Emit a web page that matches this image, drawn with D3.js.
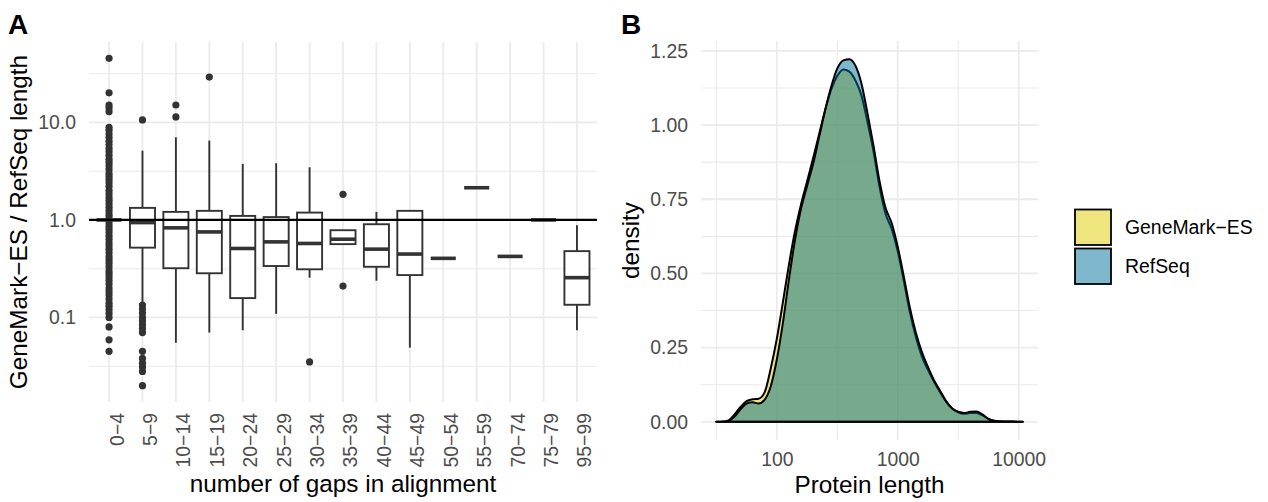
<!DOCTYPE html>
<html>
<head>
<meta charset="utf-8">
<script src="https://cdn.jsdelivr.net/npm/d3@7"></script>
<style>
  body { margin: 0; background: #fff; }
  svg { display: block; font-family: "Liberation Sans", Arial, sans-serif; }
</style>
</head>
<body>
<div id="chart"></div>
<script>
// ---- Panel A: length ratio by number of gaps ----
const gapBins = ['0−4', '5−9', '10−14', '15−19', '20−24', '25−29', '30−34', '35−39',
    '40−44', '45−49', '50−54', '55−59', '70−74', '75−79', '95−99'];
const whiskerLow = [1.0, 0.141, 0.055, 0.07, 0.074, 0.109, 0.256, 0.565, 0.238, 0.049, 0.404, 2.14, 0.423, 1.0, 0.074];
const boxQ1 = [1.0, 0.52, 0.32, 0.284, 0.158, 0.337, 0.312, 0.565, 0.331, 0.272, 0.404, 2.14, 0.423, 1.0, 0.135];
const boxMedian = [1.0, 0.94, 0.83, 0.754, 0.51, 0.596, 0.574, 0.635, 0.502, 0.447, 0.404, 2.14, 0.423, 1.0, 0.256];
const boxQ3 = [1.0, 1.33, 1.21, 1.24, 1.1, 1.07, 1.19, 0.785, 0.904, 1.24, 0.404, 2.14, 0.423, 1.0, 0.479];
const whiskerHigh = [1.0, 5.14, 7.04, 6.52, 3.76, 3.82, 3.47, 0.785, 1.21, 1.24, 0.404, 2.14, 0.423, 1.0, 0.883];
const outliers = [
    [45.4, 20.1, 15.1, 14.1, 12.9, 8.9, 8.3, 7.6, 7.0, 6.4, 5.9, 5.4, 5.0, 4.6, 4.2, 3.9, 3.6, 3.3, 3.0,
     2.8, 2.6, 2.4, 2.2, 2.0, 1.85, 1.7, 1.58, 1.46, 1.35, 1.25, 1.15, 1.08, 0.93, 0.86, 0.8, 0.74,
     0.68, 0.63, 0.58, 0.54, 0.5, 0.46, 0.42, 0.39, 0.36, 0.33, 0.3, 0.28, 0.26, 0.24, 0.22, 0.2,
     0.185, 0.17, 0.155, 0.14, 0.13, 0.12, 0.11, 0.1, 0.08, 0.059, 0.045],
    [10.6, 0.134, 0.122, 0.111, 0.1, 0.092, 0.084, 0.077, 0.07, 0.045, 0.038, 0.034, 0.031, 0.028, 0.02],
    [15.1, 11.4],
    [29.2],
    [], [], [0.035],
    [1.83, 0.21],
    [], [], [], [], [], [], []
];
const ratioTicks = [0.1, 1, 10];

// ---- Panel B: protein length densities ----
const proteinLength = [31.6, 35.5, 39.8, 44.7, 50.1, 56.2, 63.1, 70.8, 79.4, 89.1,
    100, 112, 126, 141, 158, 178, 200, 224, 251, 282,
    316, 355, 398, 447, 501, 562, 631, 708, 794, 891,
    1000, 1122, 1259, 1413, 1585, 1778, 1995, 2239, 2512, 2818,
    3162, 3548, 3981, 4467, 5012, 5623, 6310, 7079, 7943, 8913, 10000, 10800];
const densityGeneMark = [0, 0.001, 0.005, 0.025, 0.05, 0.07, 0.076, 0.078, 0.10, 0.18,
    0.28, 0.40, 0.53, 0.64, 0.73, 0.81, 0.89, 0.97, 1.05, 1.12,
    1.165, 1.187, 1.18, 1.15, 1.10, 1.01, 0.91, 0.79, 0.70, 0.65,
    0.575, 0.475, 0.37, 0.285, 0.22, 0.175, 0.135, 0.10, 0.068, 0.045,
    0.032, 0.027, 0.03, 0.03, 0.022, 0.01, 0.004, 0.002, 0.001, 0.001, 0.0005, 0];
const densityRefSeq = [0, 0, 0.003, 0.018, 0.042, 0.062, 0.066, 0.062, 0.075, 0.12,
    0.21, 0.33, 0.48, 0.61, 0.715, 0.795, 0.87, 0.96, 1.05, 1.13,
    1.19, 1.218, 1.222, 1.20, 1.14, 1.04, 0.93, 0.81, 0.72, 0.67,
    0.59, 0.49, 0.385, 0.30, 0.235, 0.185, 0.14, 0.105, 0.07, 0.045,
    0.034, 0.03, 0.034, 0.035, 0.025, 0.01, 0.003, 0.001, 0.001, 0.001, 0.0005, 0];
const seriesNames = ['GeneMark−ES', 'RefSeq'];
const seriesColors = ['#ddcb00', '#006f99'];
const lengthTicks = [100, 1000, 10000];
const densityTicks = [0, 0.25, 0.5, 0.75, 1.0, 1.25];

const gridColor = '#ebebeb';
const tickColor = '#4d4d4d';
const boxColor = '#333333';

const svg = d3.select('#chart').append('svg')
    .attr('width', 1268)
    .attr('height', 502);

// ================= Panel A =================
const pa = { left: 89, right: 597, top: 42, bottom: 402 };

const xA = d3.scalePoint()
    .domain(gapBins)
    .range([pa.left, pa.right])
    .padding(0.6);

const allRatios = [].concat(whiskerLow, whiskerHigh, ...outliers);
const lmin = Math.log10(d3.min(allRatios));
const lmax = Math.log10(d3.max(allRatios));
const lpad = (lmax - lmin) * 0.05;
const yA = d3.scaleLog()
    .domain([Math.pow(10, lmin - lpad), Math.pow(10, lmax + lpad)])
    .range([pa.bottom, pa.top]);

const gA = svg.append('g');

// minor grid (half decades)
[-2.5, -1.5, -0.5, 0.5, 1.5, 2.5].map(e => Math.pow(10, e))
    .filter(v => v > yA.domain()[0] && v < yA.domain()[1])
    .forEach(v => {
        gA.append('line')
            .attr('x1', pa.left).attr('x2', pa.right)
            .attr('y1', yA(v)).attr('y2', yA(v))
            .attr('stroke', gridColor).attr('stroke-width', 1.1);
    });
ratioTicks.forEach(v => {
    gA.append('line')
        .attr('x1', pa.left).attr('x2', pa.right)
        .attr('y1', yA(v)).attr('y2', yA(v))
        .attr('stroke', gridColor).attr('stroke-width', 1.8);
});
gapBins.forEach(c => {
    gA.append('line')
        .attr('x1', xA(c)).attr('x2', xA(c))
        .attr('y1', pa.top).attr('y2', pa.bottom)
        .attr('stroke', gridColor).attr('stroke-width', 1.8);
});

const boxW = xA.step() * 0.75;

gapBins.forEach((c, i) => {
    const cx = xA(c);
    const g = gA.append('g');
    // whiskers
    g.append('line')
        .attr('x1', cx).attr('x2', cx)
        .attr('y1', yA(boxQ3[i])).attr('y2', yA(whiskerHigh[i]))
        .attr('stroke', boxColor).attr('stroke-width', 1.9);
    g.append('line')
        .attr('x1', cx).attr('x2', cx)
        .attr('y1', yA(boxQ1[i])).attr('y2', yA(whiskerLow[i]))
        .attr('stroke', boxColor).attr('stroke-width', 1.9);
    // box
    g.append('rect')
        .attr('x', cx - boxW / 2)
        .attr('y', yA(boxQ3[i]))
        .attr('width', boxW)
        .attr('height', yA(boxQ1[i]) - yA(boxQ3[i]))
        .attr('fill', '#fff')
        .attr('stroke', boxColor)
        .attr('stroke-width', 1.9);
    // median
    g.append('line')
        .attr('x1', cx - boxW / 2).attr('x2', cx + boxW / 2)
        .attr('y1', yA(boxMedian[i])).attr('y2', yA(boxMedian[i]))
        .attr('stroke', boxColor).attr('stroke-width', 3.6);
    // outliers
    g.selectAll('circle')
        .data(outliers[i])
        .enter()
        .append('circle')
        .attr('cx', cx)
        .attr('cy', d => yA(d))
        .attr('r', 3.6)
        .attr('fill', boxColor);
});

// reference line at ratio 1
gA.append('line')
    .attr('x1', pa.left).attr('x2', pa.right)
    .attr('y1', yA(1)).attr('y2', yA(1))
    .attr('stroke', '#000').attr('stroke-width', 2.2);

// axes
const axA_y = gA.append('g')
    .attr('transform', `translate(${pa.left},0)`)
    .call(d3.axisLeft(yA).tickValues(ratioTicks).tickFormat(d3.format('.1f')).tickSize(0).tickPadding(13));
axA_y.select('.domain').remove();
axA_y.selectAll('text')
    .style('font-size', '19.4px')
    .style('fill', tickColor);

const axA_x = gA.append('g')
    .attr('transform', `translate(0,${pa.bottom})`)
    .call(d3.axisBottom(xA).tickSize(0));
axA_x.select('.domain').remove();
axA_x.selectAll('text')
    .attr('transform', 'rotate(-90)')
    .attr('x', -11)
    .attr('y', 0)
    .attr('dy', '0.72em')
    .style('text-anchor', 'end')
    .style('font-size', '19.4px')
    .style('fill', tickColor);

gA.append('text')
    .attr('x', (pa.left + pa.right) / 2)
    .attr('y', 492)
    .attr('text-anchor', 'middle')
    .style('font-size', '24.3px')
    .text('number of gaps in alignment');

gA.append('text')
    .attr('transform', `translate(26.5,${(pa.top + pa.bottom) / 2}) rotate(-90)`)
    .attr('text-anchor', 'middle')
    .style('font-size', '24.3px')
    .text('GeneMark−ES / RefSeq length');

svg.append('text')
    .attr('x', 8).attr('y', 34)
    .style('font-size', '28px')
    .style('font-weight', 'bold')
    .text('A');

// ================= Panel B =================
const pb = { left: 701, right: 1038, top: 41, bottom: 440 };

const llo = Math.log10(d3.min(proteinLength));
const lhi = Math.log10(d3.max(proteinLength));
const lxpad = (lhi - llo) * 0.05;
const xB = d3.scaleLog()
    .domain([Math.pow(10, llo - lxpad), Math.pow(10, lhi + lxpad)])
    .range([pb.left, pb.right]);

const dmax = d3.max([].concat(densityGeneMark, densityRefSeq));
const yB = d3.scaleLinear()
    .domain([-dmax * 0.05, dmax * 1.05])
    .range([pb.bottom, pb.top]);

const gB = svg.append('g');

[0.125, 0.375, 0.625, 0.875, 1.125].forEach(v => {
    gB.append('line')
        .attr('x1', pb.left).attr('x2', pb.right)
        .attr('y1', yB(v)).attr('y2', yB(v))
        .attr('stroke', gridColor).attr('stroke-width', 1.1);
});
[Math.pow(10, 1.5), Math.pow(10, 2.5), Math.pow(10, 3.5)].forEach(v => {
    gB.append('line')
        .attr('x1', xB(v)).attr('x2', xB(v))
        .attr('y1', pb.top).attr('y2', pb.bottom)
        .attr('stroke', gridColor).attr('stroke-width', 1.1);
});
densityTicks.forEach(v => {
    gB.append('line')
        .attr('x1', pb.left).attr('x2', pb.right)
        .attr('y1', yB(v)).attr('y2', yB(v))
        .attr('stroke', gridColor).attr('stroke-width', 1.8);
});
lengthTicks.forEach(v => {
    gB.append('line')
        .attr('x1', xB(v)).attr('x2', xB(v))
        .attr('y1', pb.top).attr('y2', pb.bottom)
        .attr('stroke', gridColor).attr('stroke-width', 1.8);
});

const area = d3.area()
    .x(d => xB(d[0]))
    .y0(yB(0))
    .y1(d => yB(d[1]))
    .curve(d3.curveMonotoneX);

[densityGeneMark, densityRefSeq].forEach((dens, i) => {
    gB.append('path')
        .datum(proteinLength.map((len, j) => [len, dens[j]]))
        .attr('d', area)
        .attr('fill', seriesColors[i])
        .attr('fill-opacity', 0.5)
        .attr('stroke', '#000')
        .attr('stroke-width', 2)
        .attr('stroke-linejoin', 'round');
});

const axB_y = gB.append('g')
    .attr('transform', `translate(${pb.left},0)`)
    .call(d3.axisLeft(yB).tickValues(densityTicks).tickFormat(d3.format('.2f')).tickSize(0).tickPadding(13));
axB_y.select('.domain').remove();
axB_y.selectAll('text')
    .style('font-size', '19.4px')
    .style('fill', tickColor);

const axB_x = gB.append('g')
    .attr('transform', `translate(0,${pb.bottom})`)
    .call(d3.axisBottom(xB).tickValues(lengthTicks).tickFormat(d3.format('d')).tickSize(0).tickPadding(12.5));
axB_x.select('.domain').remove();
axB_x.selectAll('text')
    .style('font-size', '19.4px')
    .style('fill', tickColor);

gB.append('text')
    .attr('x', (pb.left + pb.right) / 2)
    .attr('y', 493)
    .attr('text-anchor', 'middle')
    .style('font-size', '24.3px')
    .text('Protein length');

gB.append('text')
    .attr('transform', `translate(639,${(pb.top + pb.bottom) / 2}) rotate(-90)`)
    .attr('text-anchor', 'middle')
    .style('font-size', '24.3px')
    .text('density');

svg.append('text')
    .attr('x', 621).attr('y', 34)
    .style('font-size', '28px')
    .style('font-weight', 'bold')
    .text('B');

// legend
const legend = svg.append('g').attr('transform', 'translate(1075,209.5)');
seriesNames.forEach((name, i) => {
    legend.append('rect')
        .attr('x', 0)
        .attr('y', i * 39)
        .attr('width', 36)
        .attr('height', 35.5)
        .attr('fill', seriesColors[i])
        .attr('fill-opacity', 0.5)
        .attr('stroke', '#000')
        .attr('stroke-width', 1.8);
    legend.append('text')
        .attr('x', 50)
        .attr('y', i * 39 + 17.75)
        .attr('dy', '0.35em')
        .style('font-size', '19.4px')
        .text(name);
});
</script>
</body>
</html>
